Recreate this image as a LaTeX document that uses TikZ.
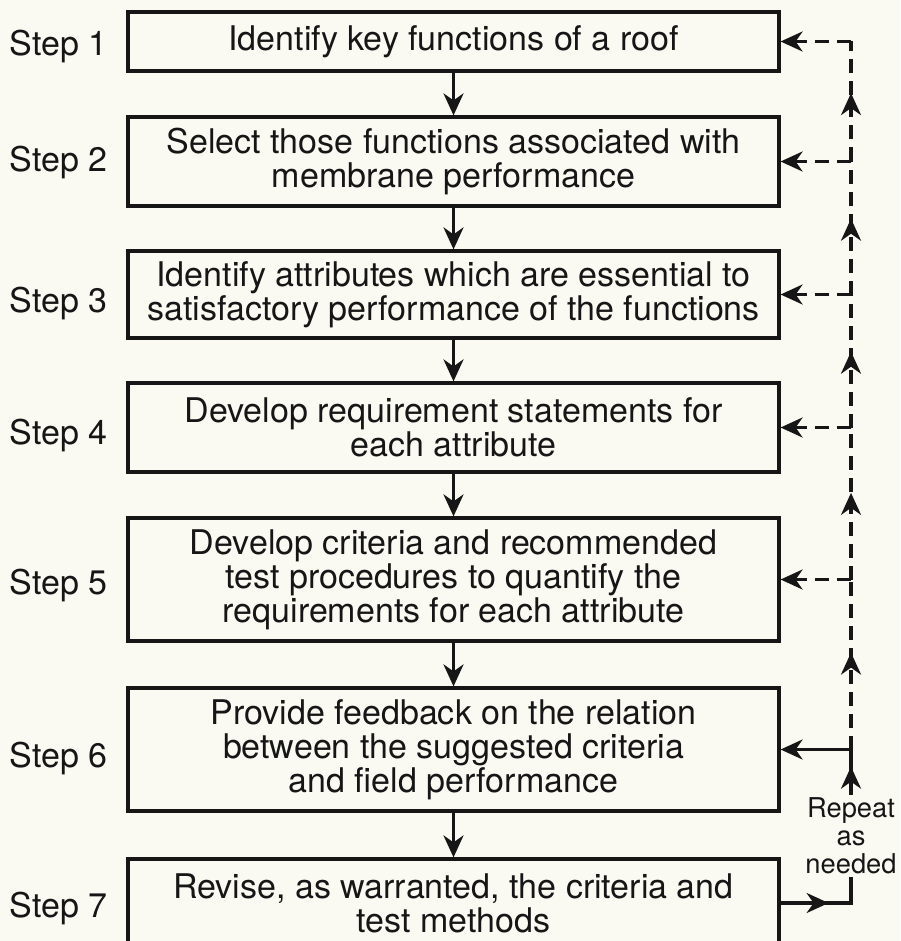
\documentclass[tikz,border=0pt]{standalone}
\usepackage{fontspec}
\setmainfont{TeX Gyre Heros}
\usetikzlibrary{arrows.meta,decorations.markings}
\definecolor{bg}{RGB}{250,250,243}
\definecolor{ink}{RGB}{22,22,22}
\begin{document}
\begin{tikzpicture}[x=1pt,y=-1pt,
  box/.style={draw=ink, line width=3.2pt, minimum width=651pt, align=center,
    inner sep=0pt, text=ink, font=\fontsize{34}{34}\selectfont},
  lab/.style={anchor=base, text=ink, inner sep=0pt, font=\fontsize{34}{34}\selectfont},
  rep/.style={align=center, text=ink, inner xsep=0pt, inner ysep=3pt, font=\fontsize{27.3}{28}\selectfont},
  arr/.style={draw=ink, line width=3.2pt, -{Stealth[length=22pt,width=20pt,inset=7pt]}},
  ln/.style={draw=ink, line width=3.2pt},
  fb/.style={draw=ink, line width=3.2pt, dash pattern=on 14pt off 8pt},
  fbarr/.style={fb, -{Stealth[length=22pt,width=20pt,inset=7pt]}},
  midtip/.style={postaction={decorate}, decoration={markings,
    mark=at position #1 with {\pgfsetdash{}{0pt}\arrow[ink]{Stealth[length=22pt,width=20pt,inset=7pt]}}}}
]
\useasboundingbox (0,0) rectangle (900,941);
\fill[bg] (0,0) rectangle (900,941);

% boxes
\node[box, minimum height=59pt]  (b1) at (453.5,41.5)  {Identify key functions of a roof};
\node[box, minimum height=89pt]  (b2) at (453.5,161.5) {Select those functions associated with\\membrane performance};
\node[box, minimum height=87pt]  (b3) at (453.5,294.5) {Identify attributes which are essential to\\satisfactory performance of the functions};
\node[box, minimum height=89pt]  (b4) at (453.5,427.5) {Develop requirement statements for\\each attribute};
\node[box, minimum height=123pt] (b5) at (453.5,579.5) {Develop criteria and recommended\\test procedures to quantify the\\requirements for each attribute};
\node[box, minimum height=123pt] (b6) at (453.5,749.5) {Provide feedback on the relation\\between the suggested criteria\\and field performance};
\node[box, minimum height=88pt]  (b7) at (453.5,903)   {Revise, as warranted, the criteria and\\test methods};

% step labels
\node[lab] (s1) at (58.5,56)  {Step 1};
\node[lab] (s2) at (58.5,172) {Step 2};
\node[lab] (s3) at (58.5,312) {Step 3};
\node[lab] (s4) at (58.5,444) {Step 4};
\node[lab] (s5) at (58.5,594) {Step 5};
\node[lab] (s6) at (58.5,767) {Step 6};
\node[lab] (s7) at (58.5,917) {Step 7};

% main flow
\draw[arr] (b1) -- (b2);
\draw[arr] (b2) -- (b3);
\draw[arr] (b3) -- (b4);
\draw[arr] (b4) -- (b5);
\draw[arr] (b5) -- (b6);
\draw[arr] (b6) -- (b7);

% feedback loop
\coordinate (rx) at (851,0);
\coordinate (r1) at (b1.east -| rx);
\coordinate (r2) at (b2.east -| rx);
\coordinate (r3) at (b3.east -| rx);
\coordinate (r4) at (b4.east -| rx);
\coordinate (r5) at (b5.east -| rx);
\coordinate (r6) at (b6.east -| rx);
\node[rep] (rep) at (851,836) {Repeat\\as\\needed};

\draw[fbarr] (r1) -- (b1.east);
\draw[fbarr] (r2) -- (b2.east);
\draw[fbarr] (r3) -- (b3.east);
\draw[fbarr] (r4) -- (b4.east);
\draw[fbarr] (r5) -- (b5.east);
\draw[arr] (r6) -- (b6.east);

\draw[fb, midtip=0.57] (r2) -- (r1);
\draw[fb, midtip=0.57] (r3) -- (r2);
\draw[fb, midtip=0.57] (r4) -- (r3);
\draw[fb, midtip=0.57] (r5) -- (r4);
\draw[fb, midtip=0.57] (r6) -- (r5);

\draw[ln, midtip=0.62] (rep.north) -- (r6);
\draw[ln, midtip=0.5] (b7.east) -- (b7.east -| rep.south) -- (rep.south);
\end{tikzpicture}
\end{document}
